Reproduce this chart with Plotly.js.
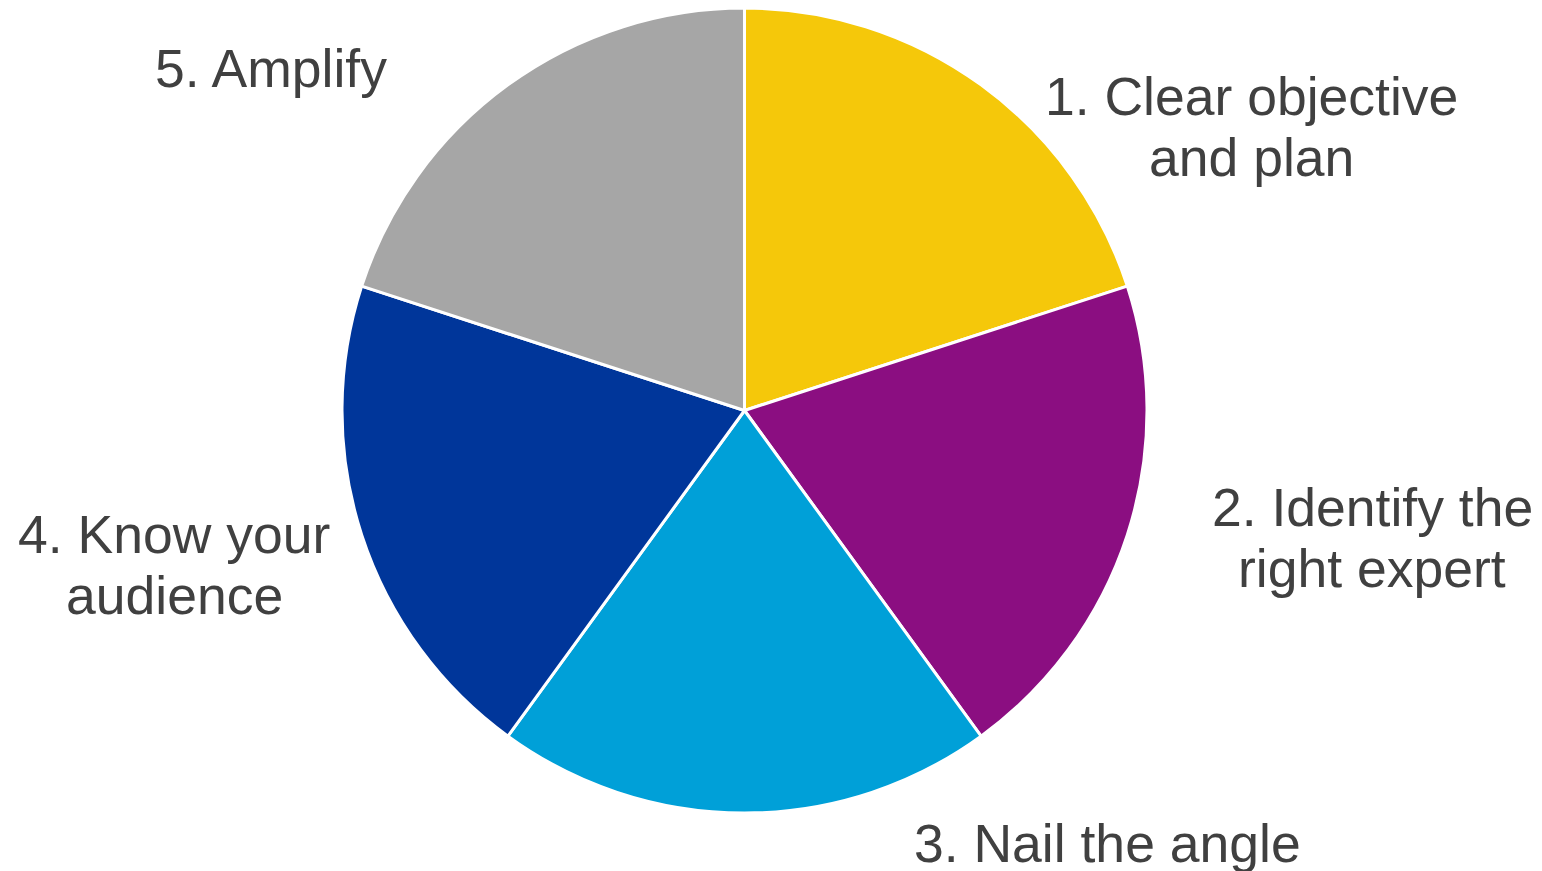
<!DOCTYPE html>
<html>
<head>
<meta charset="utf-8">
<script src="https://cdn.plot.ly/plotly-3.0.1.min.js"></script>
<style>html,body{margin:0;padding:0;background:#fff;}#chart{width:1542px;height:871px;}</style>
</head>
<body>
<div id="chart"></div>
<script>
// Data
const categories = ["1. Clear objective<br>and plan", "2. Identify the<br>right expert", "3. Nail the angle", "4. Know your<br>audience", "5. Amplify"];
const values = [20, 20, 20, 20, 20];
const colors = ["#F5C80A", "#8B0E81", "#00A0D8", "#00369A", "#A6A6A6"];

// Label placement (pixel centres of each label block)
const labelPosX = [1251, 1372, 1107, 174, 271];
const labelPosY = [127, 538, 843, 565, 68];
const lineGap = 61;

const W = 1542, H = 871;
const pie = {
  type: "pie",
  values: values,
  labels: categories,
  marker: {colors: colors, line: {color: "#ffffff", width: 3}},
  sort: false,
  direction: "clockwise",
  rotation: 0,
  textinfo: "none",
  hoverinfo: "label",
  showlegend: false,
  domain: {x: [342 / W, 1147 / W], y: [1 - 813 / H, 1 - 8 / H]}
};

const annotations = [];
categories.forEach((lab, i) => {
  const lines = lab.split("<br>");
  const n = lines.length;
  lines.forEach((ln, j) => {
    const py = labelPosY[i] + (j - (n - 1) / 2) * lineGap;
    annotations.push({
      xref: "paper", yref: "paper",
      x: labelPosX[i] / W, y: 1 - py / H,
      xanchor: "center", yanchor: "middle",
      text: ln, showarrow: false,
      font: {family: "Liberation Sans, Arial, sans-serif", size: 53.5, color: "#404040"}
    });
  });
});

const layout = {
  width: W, height: H,
  margin: {l: 0, r: 0, t: 0, b: 0},
  paper_bgcolor: "#ffffff",
  annotations: annotations,
  showlegend: false
};
Plotly.newPlot("chart", [pie], layout, {displayModeBar: false, staticPlot: true});
</script>
</body>
</html>
